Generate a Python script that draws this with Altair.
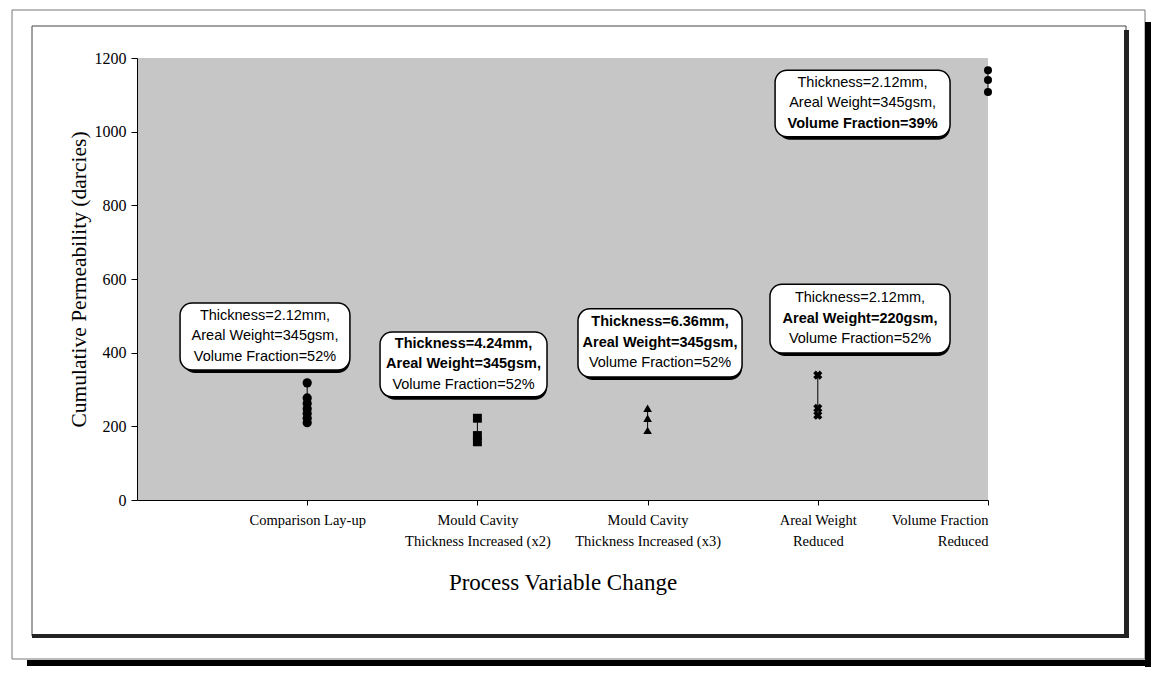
import json
import altair as alt
import pandas as pd

# ---------------- data ----------------
categories = [
    "Comparison Lay-up",
    "Mould Cavity Thickness Increased (x2)",
    "Mould Cavity Thickness Increased (x3)",
    "Areal Weight Reduced",
    "Volume Fraction Reduced",
]
tick_labels = [
    ["Comparison Lay-up"],
    ["Mould Cavity", "Thickness Increased (x2)"],
    ["Mould Cavity", "Thickness Increased (x3)"],
    ["Areal Weight", "Reduced"],
    ["Volume Fraction", "Reduced"],
]
comparison = [318, 277, 262, 248, 235, 222, 210]
mould_x2 = [222, 175, 158]
mould_x3 = [249, 222, 189]
areal_reduced = [339, 249, 230]
vf_reduced = [1167, 1140, 1108]
series_values = [comparison, mould_x2, mould_x3, areal_reduced, vf_reduced]

annotation_text = [
    ["Thickness=2.12mm,", "Areal Weight=345gsm,", "Volume Fraction=52%"],
    ["Thickness=4.24mm,", "Areal Weight=345gsm,", "Volume Fraction=52%"],
    ["Thickness=6.36mm,", "Areal Weight=345gsm,", "Volume Fraction=52%"],
    ["Thickness=2.12mm,", "Areal Weight=220gsm,", "Volume Fraction=52%"],
    ["Thickness=2.12mm,", "Areal Weight=345gsm,", "Volume Fraction=39%"],
]
annotation_bold = [
    [False, False, False],
    [True, True, False],
    [True, True, False],
    [False, True, False],
    [False, False, True],
]
# annotation box extents in axis units (x0, x1, y0, y1)
annotation_boxes = [
    (0.253, 1.251, 353, 535),
    (1.428, 2.409, 280, 456),
    (2.591, 3.555, 334, 519),
    (3.719, 4.777, 399, 586),
    (3.749, 4.777, 986, 1167),
]

# ---------------- tables ----------------
rows = []
for cat, vals in zip(categories, series_values):
    for i, v in enumerate(vals):
        rows.append({"category": cat, "value": v, "order": i})
points = pd.DataFrame(rows)

box_df = pd.DataFrame(
    [{"box": i, "x0": b[0], "x1": b[1], "y0": b[2], "y1": b[3]} for i, b in enumerate(annotation_boxes)]
)
trows = []
for i, (lines, bolds) in enumerate(zip(annotation_text, annotation_bold)):
    b = annotation_boxes[i]
    for ln, (t, bd) in enumerate(zip(lines, bolds)):
        trows.append({"box": i, "line": ln, "text": t, "bold": bd,
                      "xc": (b[0] + b[1]) / 2, "yc": (b[2] + b[3]) / 2})
text_df = pd.DataFrame(trows)

W, H = 851, 442
cat_expr = json.dumps(categories)
idx_calc = f"indexof({cat_expr}, datum.category) + 1"
label_expr = json.dumps([[""]] + tick_labels) + "[datum.value]"

x_scale = alt.Scale(domain=[0, 5], nice=False, zero=False)
y_scale = alt.Scale(domain=[0, 1200], nice=False)

x_axis = alt.Axis(
    values=[1, 2, 3, 4, 5], labelExpr=label_expr, title="Process Variable Change",
    labelFont="Liberation Serif", labelFontSize=14.5, labelLineHeight=21,
    labelPadding=8, tickSize=5, titleFont="Liberation Serif", titleFontSize=23,
    titleFontWeight="normal", titlePadding=24, domainColor="black", tickColor="black",
    labelColor="black", titleColor="black", grid=False,
)
y_axis = alt.Axis(
    values=[0, 200, 400, 600, 800, 1000, 1200], format="d",
    title="Cumulative Permeability (darcies)",
    labelFont="Liberation Serif", labelFontSize=16, labelPadding=5, tickSize=6,
    titleFont="Liberation Serif", titleFontSize=21.5, titleFontWeight="normal",
    titlePadding=4, domainColor="black", tickColor="black", labelColor="black",
    titleColor="black", grid=False,
)

base = alt.Chart(points).transform_calculate(idx=idx_calc)

lines = base.mark_line(color="black", strokeWidth=1).encode(
    x=alt.X("idx:Q", scale=x_scale, axis=x_axis),
    y=alt.Y("value:Q", scale=y_scale, axis=y_axis),
    detail="category:N",
    order="order:Q",
)

pts = base.transform_filter(alt.datum.category != categories[3]).mark_point(
    filled=True, color="black", opacity=1
).encode(
    x=alt.X("idx:Q", scale=x_scale),
    y=alt.Y("value:Q", scale=y_scale),
    shape=alt.Shape("category:N", scale=alt.Scale(
        domain=categories,
        range=["circle", "square", "triangle-up", "cross", "circle"]), legend=None),
    size=alt.Size("category:N", scale=alt.Scale(
        domain=categories, range=[85, 64, 80, 80, 85]), legend=None),
)
xpts = base.transform_filter(alt.datum.category == categories[3]).mark_point(
    filled=True, color="black", opacity=1, size=85, shape="cross", angle=45
).encode(
    x=alt.X("idx:Q", scale=x_scale),
    y=alt.Y("value:Q", scale=y_scale),
)

boxes = alt.Chart(box_df)
box_shadow = boxes.mark_rect(color="black", cornerRadius=12, xOffset=3, yOffset=3).encode(
    x=alt.X("x0:Q", scale=x_scale), x2="x1:Q",
    y=alt.Y("y0:Q", scale=y_scale), y2="y1:Q",
)
box_face = boxes.mark_rect(fill="white", stroke="black", strokeWidth=1.5, cornerRadius=12).encode(
    x=alt.X("x0:Q", scale=x_scale), x2="x1:Q",
    y=alt.Y("y0:Q", scale=y_scale), y2="y1:Q",
)

text_layers = []
for ln in range(3):
    for bd in (False, True):
        text_layers.append(
            alt.Chart(text_df)
            .transform_filter((alt.datum.line == ln) & (alt.datum.bold == bd))
            .mark_text(font="Liberation Sans", fontSize=14.5,
                       fontWeight="bold" if bd else "normal",
                       color="black", dy=(ln - 1) * 20.5, baseline="middle")
            .encode(x=alt.X("xc:Q", scale=x_scale), y=alt.Y("yc:Q", scale=y_scale), text="text:N")
        )

one = alt.Data(values=[{"k": 1}])


def frame_rect(x, x2, y, y2, **kw):
    return alt.Chart(one).mark_rect(**kw).encode(
        x=alt.value(x), x2=alt.value(x2), y=alt.value(y), y2=alt.value(y2))


frames = [
    frame_rect(-125, 1008, -48, 601, filled=False, stroke="#777777", strokeWidth=1),
    frame_rect(1008, 1014, -36, 609, color="black"),
    frame_rect(-110, 1014, 602, 608, color="black"),
    frame_rect(-105, 989, -32, 578, filled=False, stroke="#444444", strokeWidth=1),
    frame_rect(987, 992, -28, 580, color="#222222"),
    frame_rect(-105, 992, 576, 580, color="#222222"),
]

chart = alt.layer(
    *frames, lines, pts, xpts, box_shadow, box_face, *text_layers
).properties(
    width=W, height=H,
    autosize=alt.AutoSizeParams(type="none"),
    padding={"left": 129, "top": 50, "right": 163, "bottom": 167},
    background="white",
).configure_view(fill="#c6c6c6", strokeWidth=0)

chart.save("out.html", embed_options={"renderer": "svg", "actions": False})
